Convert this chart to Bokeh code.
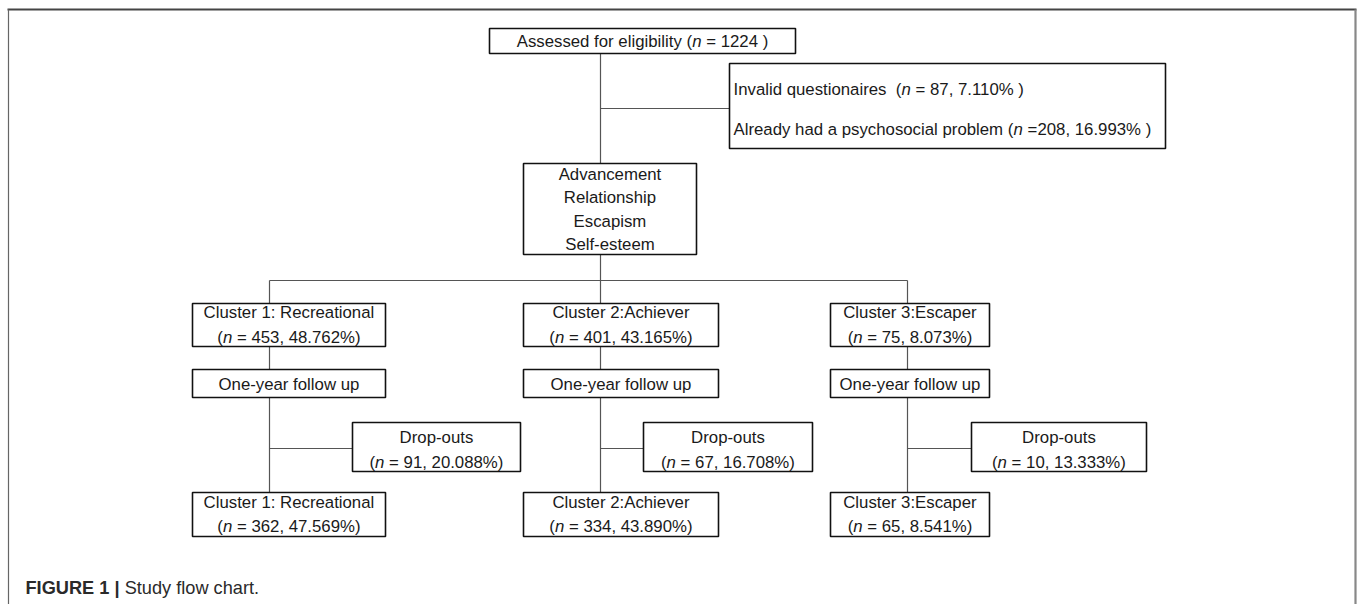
from bokeh.plotting import figure
from bokeh.models import Range1d, ColumnDataSource
from bokeh.core.properties import value
from bokeh.embed import file_html
from bokeh.resources import INLINE

# ---------------- data ----------------
total_n = 1224
excluded_labels = ["Invalid questionaires  ", "Already had a psychosocial problem "]
excluded_eq = [" = 87, ", " =208, "]
excluded_pct = ["7.110% )", "16.993% )"]
motives = ["Advancement", "Relationship", "Escapism", "Self-esteem"]
clusters = ["Cluster 1: Recreational", "Cluster 2:Achiever", "Cluster 3:Escaper"]
baseline_n = [453, 401, 75]
baseline_pct = ["48.762", "43.165", "8.073"]
followup_label = "One-year follow up"
dropout_label = "Drop-outs"
dropout_n = [91, 67, 10]
dropout_pct = ["20.088", "16.708", "13.333"]
final_n = [362, 334, 65]
final_pct = ["47.569", "43.890", "8.541"]
caption_bold = "FIGURE 1 |"
caption_text = " Study flow chart."

# ---------------- layout (screen pixel coordinates) ----------------
FONT = "Liberation Sans"
FS = 16.8
CAP_FS = 18.2
TXT = "#1a1a1a"
NB = "\u00a0"

col_x = [269, 600, 907]
box_l = [192, 523, 830]
box_r = [385, 718, 989]
drop_l = [352, 643, 971]
drop_r = [520, 812, 1146]

# Arial / Liberation Sans advance widths (1/1000 em)
W = {' ': 278, NB: 278, '(': 333, ')': 333, '=': 584, ',': 278, '.': 278, '%': 889, ':': 278, '-': 333, '|': 260,
     'A': 667, 'C': 722, 'D': 722, 'E': 667, 'F': 611, 'G': 778, 'I': 278, 'O': 778, 'R': 722, 'S': 667, 'U': 722,
     'a': 556, 'b': 556, 'c': 500, 'd': 556, 'e': 556, 'f': 278, 'g': 556, 'h': 556, 'i': 222, 'j': 222,
     'k': 500, 'l': 222, 'm': 833, 'n': 556, 'o': 556, 'p': 556, 'q': 556, 'r': 333, 's': 500, 't': 278,
     'u': 556, 'v': 500, 'w': 722, 'x': 500, 'y': 500, 'z': 500}
WB = {'F': 611, 'I': 278, 'G': 778, 'U': 722, 'R': 722, 'E': 667, ' ': 278, NB: 278, '1': 556, '|': 280}


def nb(s):
    # keep spaces visible in SVG text (leading / trailing / repeated spaces)
    return s.replace(" ", NB)


def tw(s, size=FS, table=W):
    return sum(table.get(c, 556) for c in s) / 1000.0 * size


reg = dict(x=[], y=[], text=[])
ita = dict(x=[], y=[], text=[])


def put(x, y, parts, align="center"):
    parts = [(nb(t), it) for t, it in parts]
    total = sum(tw(t) for t, _ in parts)
    cur = x - total / 2.0 if align == "center" else x
    for t, it in parts:
        d = ita if it else reg
        d["x"].append(cur)
        d["y"].append(y)
        d["text"].append(t)
        cur += tw(t)


def nline(n, pct, pre="(", suffix="%)"):
    return [(pre, False), ("n", True), (" = %s, %s%s" % (n, pct, suffix), False)]


p = figure(width=1357, height=604, x_range=Range1d(0, 1357), y_range=Range1d(604, 0),
           output_backend="svg", toolbar_location=None, x_axis_type=None, y_axis_type=None,
           min_border=0, outline_line_color=None)
p.grid.visible = False
p.background_fill_color = "white"
p.border_fill_color = "white"

# outer frame
p.segment(x0=[7, 8, 1355], y0=[9, 9, 9], x1=[1356, 8, 1355], y1=[9, 604, 604],
          line_color=["#444444", "#666666", "#888888"], line_width=[2.2, 1.2, 2.2])

# connectors
sx0, sy0, sx1, sy1 = [], [], [], []
def seg(a, b, c, d):
    sx0.append(a); sy0.append(b); sx1.append(c); sy1.append(d)

seg(600, 53, 600, 163)
seg(600, 108, 729, 108)
seg(600, 254, 600, 280)
seg(col_x[0], 280, col_x[2], 280)
for i, cx in enumerate(col_x):
    seg(cx, 280, cx, 303)
    seg(cx, 346, cx, 369)
    seg(cx, 397, cx, 492)
    seg(cx, 448, drop_l[i], 448)
p.segment(x0=sx0, y0=sy0, x1=sx1, y1=sy1, line_color="#555555", line_width=1.2)

# boxes
bl, br, bt, bb = [], [], [], []
def box(l, r, t, b):
    bl.append(l); br.append(r); bt.append(t); bb.append(b)

box(489, 795, 28, 53)
box(729, 1165, 63, 148)
box(523, 696, 163, 254)
for i in range(3):
    box(box_l[i], box_r[i], 303, 346)
    box(box_l[i], box_r[i], 369, 397)
    box(drop_l[i], drop_r[i], 422, 471)
    box(box_l[i], box_r[i], 492, 536)
p.quad(left=bl, right=br, top=bt, bottom=bb, fill_color="white", line_color="#111111", line_width=1.6)

# texts
put(642, 41, [("Assessed for eligibility (", False), ("n", True), (" = %d )" % total_n, False)])
for k, yy in enumerate([89, 129]):
    put(733, yy, [(excluded_labels[k] + "(", False), ("n", True),
                  (excluded_eq[k] + excluded_pct[k], False)], align="left")
for k, m in enumerate(motives):
    put(609.5, [174, 197, 221, 244][k], [(m, False)])
for i in range(3):
    cx = (box_l[i] + box_r[i]) / 2.0
    dx = (drop_l[i] + drop_r[i]) / 2.0
    put(cx, 312, [(clusters[i], False)])
    put(cx, 337, nline(baseline_n[i], baseline_pct[i]))
    put(cx, 384, [(followup_label, False)])
    put(dx, 437, [(dropout_label, False)])
    put(dx, 462, nline(dropout_n[i], dropout_pct[i]))
    put(cx, 502, [(clusters[i], False)])
    put(cx, 526, nline(final_n[i], final_pct[i]))

common = dict(text_font=value(FONT), text_font_size=value("%.1fpx" % FS), text_align="left",
              text_baseline="middle", text_color=TXT)
p.text(x="x", y="y", text="text", source=ColumnDataSource(reg), **common)
p.text(x="x", y="y", text="text", source=ColumnDataSource(ita), text_font_style="italic", **common)

# caption
bw = tw(caption_bold, CAP_FS, WB)
p.text(x=[25], y=[587], text=[caption_bold], text_font=value(FONT), text_font_size=value("%.1fpx" % CAP_FS),
       text_font_style="bold", text_align="left", text_baseline="middle", text_color="#2a2a2a")
p.text(x=[25 + bw], y=[587], text=[nb(caption_text)], text_font=value(FONT),
       text_font_size=value("%.1fpx" % CAP_FS),
       text_align="left", text_baseline="middle", text_color="#2a2a2a")

open("out.html", "w").write(file_html(p, INLINE))
